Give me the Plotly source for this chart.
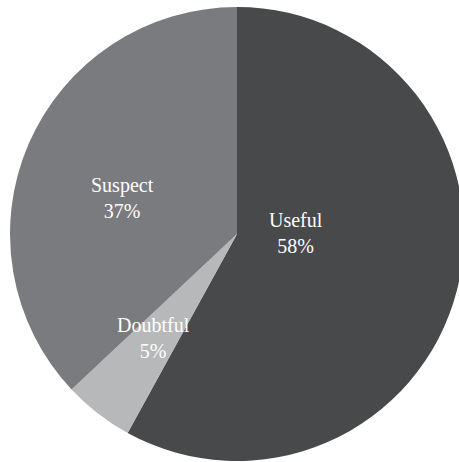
import plotly.graph_objects as go

labels = ["Useful", "Doubtful", "Suspect"]
values = [58, 5, 37]
colors = ["#48494b", "#b7b8ba", "#7a7b7e"]
# label centre positions in pixels (x, y) of the photographed page
label_px = [(296, 233), (153, 338), (122, 198)]

W, H = 466, 462
ML, MR, MT, MB = 10, 2, 7, 1
PW, PH = W - ML - MR, H - MT - MB

fig = go.Figure(go.Pie(
    labels=labels, values=values, sort=False, direction="clockwise",
    rotation=0, marker=dict(colors=colors, line=dict(width=0)),
    textinfo="none", hoverinfo="label+percent", showlegend=False,
))

for lab, val, (px, py) in zip(labels, values, label_px):
    fig.add_annotation(
        x=(px - ML) / PW, y=1 - (py - MT) / PH, xref="paper", yref="paper",
        text=f"{lab}<br>{val}%", showarrow=False,
        font=dict(family="Liberation Serif", size=20, color="white"),
        xanchor="center", yanchor="middle", align="center",
    )

fig.update_layout(
    width=W, height=H, autosize=False,
    margin=dict(l=ML, r=MR, t=MT, b=MB),
    paper_bgcolor="white", plot_bgcolor="white",
)
fig.write_html(
    "out.html",
    config={"displayModeBar": False},
    post_script="document.body.style.margin='0';document.body.style.overflow='hidden';document.documentElement.style.overflow='hidden';",
)
